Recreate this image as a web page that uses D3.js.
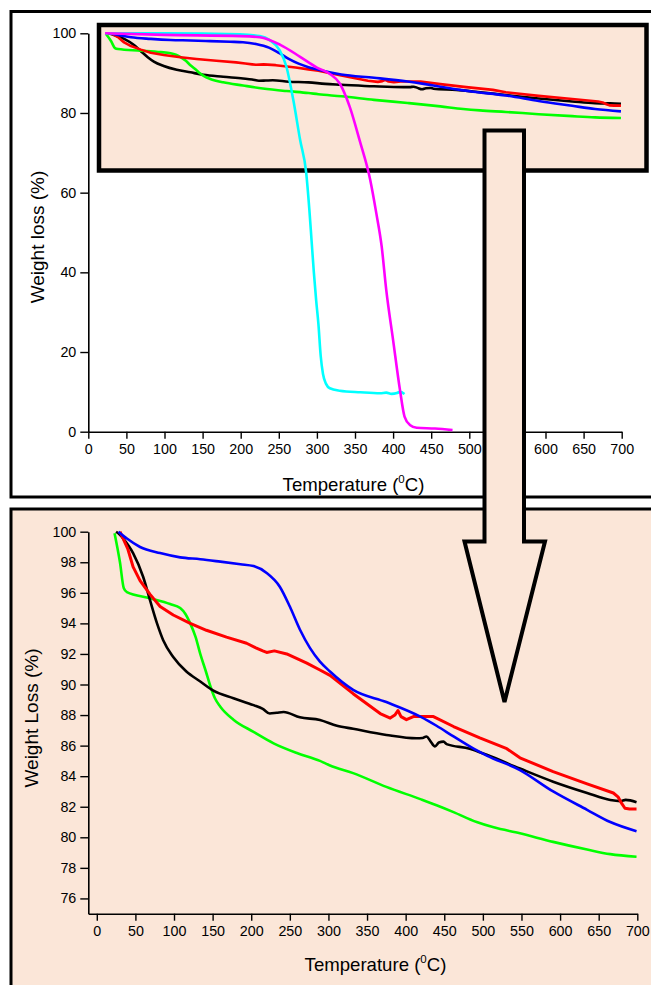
<!DOCTYPE html>
<html>
<head>
<meta charset="utf-8">
<script src="https://cdn.jsdelivr.net/npm/d3@7"></script>
<style>
  html, body { margin: 0; padding: 0; background: #ffffff; }
  svg { display: block; }
  text { font-family: "Liberation Sans", Arial, sans-serif; fill: #000; }
</style>
</head>
<body>
<svg id="chart" width="651" height="985"></svg>
<script>
// ---------------- DATA (Temperature °C, Weight %) ----------------
const sampleBlack = [[25,100],[30,99.8],[35,99.5],[47,98.6],[60,97.05],[69,95.5],[78,94.0],[86,92.9],[99,91.8],[116,90.85],[134,90.2],[151,89.6],[177,89.1],[203,88.65],[215,88.4],[224,88.1],[233,88.15],[242,88.2],[263,87.85],[289,87.68],[311,87.3],[332,87.1],[375,86.7],[414,86.48],[422,86.5],[427,86.6],[432,86.3],[438,85.95],[443,86.2],[449,86.26],[453,86.1],[483,85.8],[505,85.4],[548,84.5],[591,83.64],[635,82.9],[665,82.44],[678,82.37],[685,82.45],[699,82.3]];
const sampleRed = [[30,100],[40,98.9],[47,97.7],[56,96.8],[69,95.9],[82,95.1],[99,94.55],[121,94.0],[142,93.55],[168,93.1],[194,92.7],[206,92.4],[215,92.2],[220,92.1],[230,92.2],[246,92.0],[272,91.4],[289,90.95],[302,90.6],[332,89.4],[367,88.1],[380,87.8],[386,88.0],[390,88.3],[394,87.9],[401,87.7],[410,87.9],[418,87.9],[436,87.9],[462,87.25],[496,86.5],[531,85.8],[548,85.2],[591,84.3],[635,83.5],[669,82.9],[675,82.65],[680,82.2],[684,81.9],[690,81.85],[699,81.85]];
const sampleBlue = [[28,100],[39,99.55],[56,99.0],[82,98.6],[108,98.32],[134,98.2],[160,98.04],[186,97.87],[203,97.75],[220,97.3],[237,96.4],[250,95.1],[263,93.6],[276,92.4],[289,91.5],[302,90.85],[332,89.65],[375,88.85],[419,87.9],[440,87.3],[462,86.6],[488,85.8],[505,85.35],[548,84.4],[591,83.0],[635,81.8],[665,81.0],[699,80.4]];
const sampleGreen = [[23,99.9],[30,98.0],[35,96.3],[39,96.05],[69,95.65],[95,95.27],[108,95.0],[115,94.6],[121,94.0],[128,93.1],[134,92.0],[141,90.9],[147,89.9],[153,89.1],[160,88.55],[177,87.7],[203,86.9],[229,86.15],[260,85.5],[289,85.0],[302,84.7],[332,84.2],[375,83.3],[419,82.5],[440,82.1],[462,81.65],[492,81.0],[514,80.65],[548,80.26],[591,79.7],[635,79.2],[665,78.9],[699,78.73]];
const sampleCyan = [[22,100],[100,100],[199,99.75],[225,99.3],[238,98.3],[251,95.8],[260,91.6],[269,83.3],[278,73.2],[286,64.9],[290,56],[293,48],[296,40],[299,33],[302,27],[305,19],[308,14.5],[312,12],[317,10.9],[330,10.3],[357,9.9],[383,9.65],[391,9.8],[398,9.5],[405,9.7],[409,10.0],[415,9.45]];
const sampleMagenta = [[22,100],[100,99.6],[200,99.3],[225,99.0],[252,97.1],[278,94.1],[300,91.4],[317,89.8],[330,87.4],[343,81.6],[356,73.2],[370,63.2],[378,54.8],[385,46.5],[391,35.6],[400,23],[409,10.5],[415,3.8],[422,1.7],[431,1.0],[455,0.8],[478,0.4]];

const topXTicks = [0,50,100,150,200,250,300,350,400,450,500,550,600,650,700];
const topYTicks = [0,20,40,60,80,100];
const botXTicks = [0,50,100,150,200,250,300,350,400,450,500,550,600,650,700];
const botYTicks = [76,78,80,82,84,86,88,90,92,94,96,98,100];

const xTitle = "Temperature (";
const yTitleTop = "Weight loss (%)";
const yTitleBot = "Weight Loss (%)";

const topSeries = [
  {data: sampleBlack, color: "#000000", smooth: true},
  {data: sampleGreen, color: "#00ff00", smooth: true},
  {data: sampleRed, color: "#ff0000", smooth: false},
  {data: sampleBlue, color: "#0000ff", smooth: true},
  {data: sampleCyan, color: "#00ffff", smooth: true},
  {data: sampleMagenta, color: "#ff00ff", smooth: true}
];
const botSeries = [
  {data: sampleGreen, color: "#00ff00", smooth: true},
  {data: sampleBlack, color: "#000000", smooth: true},
  {data: sampleRed, color: "#ff0000", smooth: false},
  {data: sampleBlue, color: "#0000ff", smooth: true}
];

// ---------------- DRAW ----------------
const beige = "#fbe6d8";
const svg = d3.select("#chart");

// panels
svg.append("rect").attr("x", 11).attr("y", 11.5).attr("width", 660).attr("height", 485.5)
  .attr("fill", "#fff").attr("stroke", "#000").attr("stroke-width", 3);
svg.append("rect").attr("x", 11).attr("y", 509).attr("width", 660).attr("height", 500)
  .attr("fill", beige).attr("stroke", "#000").attr("stroke-width", 3);

function drawAxes(g, x, y, xTicks, yTicks, xMinor, yMinor) {
  const xa = g.append("g").attr("transform", `translate(0,${y.range()[0]})`);
  xa.call(d3.axisBottom(x).tickValues(xMinor).tickSize(4).tickSizeOuter(0).tickFormat(""));
  xa.call(d3.axisBottom(x).tickValues(xTicks).tickSize(7).tickSizeOuter(0).tickPadding(5));
  const ya = g.append("g").attr("transform", `translate(${x.range()[0]},0)`);
  ya.call(d3.axisLeft(y).tickValues(yMinor).tickSize(4).tickSizeOuter(0).tickFormat(""));
  ya.call(d3.axisLeft(y).tickValues(yTicks).tickSize(8).tickSizeOuter(0).tickPadding(4));
  g.selectAll(".domain").attr("stroke-width", 1.6);
  g.selectAll(".tick line").attr("stroke-width", 1.4);
  g.selectAll(".tick text").attr("font-size", 14.3).attr("font-family", '"Liberation Sans", Arial, sans-serif');
}

// ---- top chart
const xT = d3.scaleLinear().domain([0, 700]).range([88.3, 621.7]);
const yT = d3.scaleLinear().domain([0, 100]).range([431.7, 33.3]);
const gT = svg.append("g");
drawAxes(gT, xT, yT, topXTicks, topYTicks, d3.range(25, 700, 50), d3.range(10, 100, 20));

// zoom-region highlight box
svg.append("rect").attr("x", 99).attr("y", 25).attr("width", 547.5).attr("height", 145.5)
  .attr("fill", beige).attr("stroke", "#000").attr("stroke-width", 4.5);

function makeLine(x, y, smooth) {
  return d3.line().x(d => x(d[0])).y(d => y(d[1])).curve(smooth ? d3.curveMonotoneX : d3.curveLinear);
}
svg.append("g").selectAll("path").data(topSeries).join("path")
  .attr("d", d => makeLine(xT, yT, d.smooth)(d.data)).attr("fill", "none")
  .attr("stroke", d => d.color).attr("stroke-width", 2.6).attr("stroke-linejoin", "round");

function xTitleText(sel, cx, cy) {
  const t = sel.append("text").attr("x", cx).attr("y", cy).attr("text-anchor", "middle").attr("font-size", 18.6);
  t.append("tspan").text(xTitle);
  t.append("tspan").attr("font-size", 11.5).attr("dy", -8).text("0");
  t.append("tspan").attr("dy", 8).text("C)");
}
xTitleText(svg, 353.5, 490.5);
svg.append("text").attr("transform", "translate(43.5,237) rotate(-90)").attr("text-anchor", "middle")
  .attr("font-size", 19).text(yTitleTop);

// ---- bottom chart
const xB = d3.scaleLinear().domain([-11, 700]).range([88.3, 637.3]);
const yB = d3.scaleLinear().domain([75, 100]).range([913.7, 531.7]);
const gB = svg.append("g");
drawAxes(gB, xB, yB, botXTicks, botYTicks, d3.range(25, 700, 50), d3.range(77, 100, 2));

svg.append("g").selectAll("path").data(botSeries).join("path")
  .attr("d", d => makeLine(xB, yB, d.smooth)(d.data)).attr("fill", "none")
  .attr("stroke", d => d.color).attr("stroke-width", d => d.color === "#ff0000" ? 3 : 2.6)
  .attr("stroke-linejoin", "round");

xTitleText(svg, 375.5, 971);
svg.append("text").attr("transform", "translate(37.5,718) rotate(-90)").attr("text-anchor", "middle")
  .attr("font-size", 19).text(yTitleBot);

// ---- big arrow linking the two panels
const arrowPts = [[484.5,130.5],[524,130.5],[524,541.5],[545,541.5],[504.5,702],[464.5,541.5],[484.5,541.5]];
svg.append("path").attr("d", d3.line()(arrowPts) + "Z")
  .attr("fill", beige).attr("stroke", "#000").attr("stroke-width", 4).attr("stroke-linejoin", "miter");
</script>
</body>
</html>
